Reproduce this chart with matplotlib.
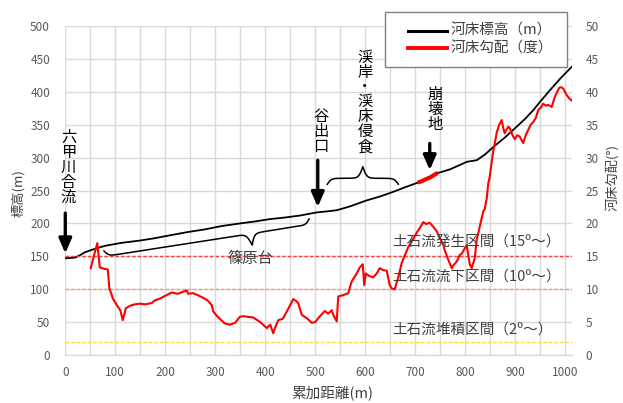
import numpy as np
import matplotlib.pyplot as plt
from matplotlib.lines import Line2D
from matplotlib.patches import Rectangle

plt.rcParams['font.family'] = ['Noto Sans CJK JP', 'DejaVu Sans']

W, H = 623, 403

# River-bed elevation profile (m) along cumulative distance (m)
dist_elev = [0, 10, 19, 25, 30, 39, 50, 66, 80, 113, 150, 179, 210, 246, 280, 313,
             350, 380, 409, 440, 470, 503, 520, 543, 570, 603, 630, 656, 680, 709,
             730, 743, 769, 790, 803, 823, 840, 856, 880, 903, 920, 936, 950, 969,
             990, 1013]
elev = [147, 147.5, 148, 150, 152, 156, 159, 163, 166, 170.5, 174, 177.5, 182, 187,
        191, 196, 200, 203, 206.5, 209, 212, 216.7, 218, 220, 226, 235, 241, 248,
        255, 263, 270, 276, 282, 289, 293.6, 296, 305, 316, 331, 347, 359, 372,
        385, 402, 420, 438]

# River-bed gradient (degrees) along cumulative distance (m)
dist_grad = [51, 57, 64, 69, 78, 85, 88, 95, 103, 110, 115, 121, 130, 139, 150, 160,
             173, 179, 190, 200, 213, 225, 235, 243, 246, 255, 265, 273, 283, 293,
             296, 305, 319, 329, 340, 349, 356, 366, 376, 390, 403, 410, 416, 420,
             426, 435, 443, 450, 456, 462, 466, 473, 483, 493, 500, 506, 519, 526,
             533, 536, 543, 546, 556, 566, 573, 583, 589, 595, 598, 601, 608, 616,
             623, 629, 636, 643, 649, 653, 659, 666, 673, 686, 695, 703, 710, 716,
             722, 729, 736, 743, 749, 756, 759, 766, 773, 776, 783, 789, 793, 799,
             803, 806, 809, 813, 819, 823, 829, 836, 839, 843, 846, 849, 856, 859,
             863, 868, 873, 876, 879, 886, 889, 894, 899, 904, 909, 916, 921, 926,
             931, 936, 941, 946, 951, 956, 961, 966, 973, 979, 984, 988, 992, 996,
             1003, 1008, 1013]
grad = [13.2, 15.0, 17.0, 13.3, 13.1, 13.0, 10.2, 8.6, 7.6, 6.8, 5.3, 7.1, 7.5, 7.7,
        7.8, 7.7, 7.9, 8.3, 8.6, 9.0, 9.5, 9.3, 9.6, 9.8, 9.3, 9.4, 9.1, 8.8, 8.4,
        7.6, 6.6, 5.8, 4.8, 4.6, 4.9, 5.8, 5.9, 5.8, 5.7, 5.0, 4.1, 4.6, 3.3, 4.2,
        5.3, 5.5, 6.6, 7.6, 8.5, 8.2, 7.9, 6.1, 5.6, 4.9, 5.0, 5.6, 6.7, 6.3, 6.8,
        6.1, 5.1, 8.9, 9.1, 9.4, 11.2, 12.4, 13.3, 13.8, 10.6, 12.4, 12.0, 11.8,
        12.4, 13.2, 12.9, 12.8, 10.6, 10.1, 10.0, 11.8, 14.0, 16.4, 17.5, 18.6,
        19.4, 20.2, 19.9, 20.1, 19.5, 18.8, 17.8, 16.8, 15.9, 14.5, 13.2, 13.6,
        14.2, 15.2, 15.4, 16.2, 16.7, 15.2, 13.8, 13.2, 14.7, 17.5, 19.5, 21.8,
        22.2, 23.8, 26.0, 27.1, 31.0, 32.1, 33.8, 35.0, 35.7, 34.5, 33.7, 34.7,
        34.5, 33.5, 32.8, 33.4, 33.2, 32.2, 33.4, 34.2, 35.0, 35.4, 36.0, 37.2,
        37.6, 38.2, 37.9, 38.0, 37.7, 39.2, 40.0, 40.6, 40.7, 40.5, 39.5, 39.0,
        38.7]

collapse_range = (705, 745)

zone_levels = [15, 10, 2]
zone_labels = ['土石流発生区間（15º～）', '土石流流下区間（10º～）', '土石流堆積区間（2º～）']
zone_label_y = [17.2, 11.9, 3.8]
zone_colors = ['#FF3B3B', '#EBA27A', '#EEE23A']

x_ticks = list(range(0, 1001, 100))
left_ticks = list(range(0, 501, 50))
right_ticks = list(range(0, 51, 5))

legend_labels = ['河床標高（m）', '河床勾配（度）']

TICK_COLOR = '#595959'
TEXT_COLOR = '#404040'
GRID_COLOR = '#D9D9D9'

fig = plt.figure(figsize=(W / 100, H / 100), dpi=100)
ax = fig.add_axes([65.3 / W, 1 - 355 / H, (571.7 - 65.3) / W, (355 - 26) / H])
ax2 = ax.twinx()

# axes, grid and ticks
ax.set_xlim(0, 1013)
ax.set_ylim(0, 500)
ax2.set_ylim(0, 50)
ax.set_xticks(x_ticks)
ax.set_xticks(list(range(0, 1001, 50)), minor=True)
ax.set_yticks(left_ticks)
ax2.set_yticks(right_ticks)
ax.grid(True, which='both', color=GRID_COLOR, lw=1.0)
ax.set_axisbelow(True)
for a in (ax, ax2):
    for side in ('top', 'left', 'right'):
        a.spines[side].set_visible(False)
    a.spines['bottom'].set_color(GRID_COLOR)
ax.tick_params(axis='both', which='both', length=0, colors=TICK_COLOR, labelsize=8.5)
ax.tick_params(axis='y', pad=11)
ax.tick_params(axis='x', pad=8)
ax2.tick_params(axis='y', length=0, colors=TICK_COLOR, labelsize=8.5, pad=10)

# zone threshold lines (gradient)
for lvl, col in zip(zone_levels, zone_colors):
    ax2.axhline(lvl, color=col, lw=1.0, ls=(0, (2.5, 1.5)), zorder=2)

# elevation profile
ax.plot(dist_elev, elev, color='black', lw=1.3, zorder=3)
cx = np.linspace(collapse_range[0], collapse_range[1], 30)
ax.plot(cx, np.interp(cx, dist_elev, elev), color='#FF0000', lw=3, zorder=4,
        solid_capstyle='butt')

# gradient profile
ax2.plot(dist_grad, grad, color='#FF0000', lw=1.5, zorder=3)

# zone labels
for lab, yy in zip(zone_labels, zone_label_y):
    ax2.text(655, yy, lab, fontsize=10.5, color=TEXT_COLOR, ha='left', va='center',
             zorder=5)

# axis labels
fig.text(332 / W, 1 - 393 / H, '累加距離(m)', fontsize=10.5, color=TEXT_COLOR,
         ha='center', va='center')
fig.text(18 / W, 1 - 193 / H, '標高(m)', fontsize=9.5, color=TEXT_COLOR,
         ha='center', va='center', rotation=90)
fig.text(613 / W, 1 - 178 / H, '河床勾配(°)', fontsize=9.5, color=TEXT_COLOR,
         ha='center', va='center', rotation=90)

renderer = fig.canvas.get_renderer()


def line_pitch(size):
    """Pixel distance between lines of a multi-line text at linespacing 1."""
    t1 = fig.text(0, 0, '甲', fontsize=size, linespacing=1.0)
    t2 = fig.text(0, 0, '甲\n甲', fontsize=size, linespacing=1.0)
    h1 = t1.get_window_extent(renderer).height
    h2 = t2.get_window_extent(renderer).height
    t1.remove()
    t2.remove()
    return h2 - h1


def tategaki(x_px, y_px, text, pitch=14.5, size=11, color='black'):
    """Vertical (top-to-bottom) text; y_px is the centre of the first character."""
    ls = pitch / line_pitch(size)
    yc = y_px + (len(text) - 1) * pitch / 2
    fig.text(x_px / W, 1 - yc / H, '\n'.join(text), fontsize=size, color=color,
             ha='center', va='center', multialignment='center', linespacing=ls)


def brace(p0, p1, h1, h2, side, frac=0.5, w=2.0, **kw):
    """Curly brace between two pixel points, bulging to one side,
    with its point at fraction `frac` of the span."""
    p0 = np.asarray(p0, float)
    p1 = np.asarray(p1, float)
    L = np.hypot(*(p1 - p0))
    u = (p1 - p0) / L
    n = np.array([-u[1], u[0]]) * side
    sig = lambda z: 1 / (1 + np.exp(-z))
    sT = frac * L

    def half(d, span):
        return h1 * (2 * sig(d / w) - 1) + (h2 - h1) * 2 * sig((d - span) / w)

    s1 = np.linspace(0, sT, 200)
    s2 = np.linspace(sT, L, 200)
    v1 = half(s1, sT)
    v2 = half(L - s2, L - sT)
    s_full = np.concatenate([s1, s2])
    v_full = np.concatenate([v1, v2])
    pts = p0[None, :] + s_full[:, None] * u[None, :] + v_full[:, None] * n[None, :]
    fig.add_artist(Line2D(pts[:, 0] / W, 1 - pts[:, 1] / H,
                          transform=fig.transFigure, **kw))


def arrow(x, tail, tip):
    ax.annotate('', xy=(x, tip), xytext=(x, tail),
                arrowprops=dict(arrowstyle='-|>,head_length=0.8,head_width=0.35',
                                mutation_scale=11, lw=2.4, color='black',
                                shrinkA=0, shrinkB=0), zorder=6)


# annotations
tategaki(68.5, 139, '六甲川合流', pitch=14.3)
arrow(0, 215.6, 154.5)

tategaki(320.5, 117, '谷出口')
arrow(505, 296, 225)

tategaki(365, 59, '渓岸・渓床侵食', pitch=14.3)
brace((327.3, 184.3), (398.3, 184.3), 6, 17.6, side=-1, frac=0.5,
      color='black', lw=1.1)

tategaki(435, 95, '崩壊地')
arrow(729, 321.5, 281)

brace((104, 251), (309, 219), 5.5, 17, side=1, frac=0.71, color='black', lw=1.1)
fig.text(250 / W, 1 - 258 / H, '篠原台', fontsize=11, color=TEXT_COLOR,
         ha='center', va='center')

# legend box
fig.add_artist(Rectangle((385 / W, 1 - 66.7 / H), (566.7 - 385) / W, (66.7 - 11.7) / H,
                         transform=fig.transFigure, facecolor='white',
                         edgecolor='#7F7F7F', lw=1.0, zorder=10))
for yy, col, lw, lab in zip([30.7, 48.3], ['black', '#FF0000'], [2.2, 2.8], legend_labels):
    fig.add_artist(Line2D([408 / W, 446.7 / W], [1 - yy / H, 1 - yy / H],
                          transform=fig.transFigure, color=col, lw=lw, zorder=11))
    fig.text(451 / W, 1 - yy / H, lab, fontsize=10.5, color=TEXT_COLOR,
             ha='left', va='center', zorder=11)

fig.savefig('out.png', dpi=100)
